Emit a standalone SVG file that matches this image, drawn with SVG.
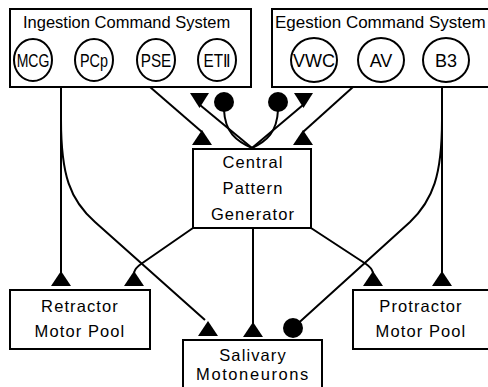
<svg xmlns="http://www.w3.org/2000/svg" width="488" height="387" viewBox="0 0 488 387">
<defs>
<style>
.box{fill:#fff;stroke:#000;stroke-width:2}
.cir{fill:#fff;stroke:#000;stroke-width:2}
.ln{fill:none;stroke:#000;stroke-width:2}
.t{font-family:"Liberation Sans",Arial,sans-serif;font-size:16.5px;fill:#000}
.lb{font-family:"Liberation Sans",Arial,sans-serif;font-size:16.5px;letter-spacing:1.1px;fill:#000;text-anchor:middle}
.cl{font-family:"Liberation Sans",Arial,sans-serif;font-size:18px;fill:#000;text-anchor:middle}
.tri{fill:#000}
</style>
</defs>
<rect width="488" height="387" fill="#fff"/>
<g id="ingestion">
<rect class="box" x="10" y="9" width="241" height="78"/>
<text class="t" x="23" y="28">Ingestion Command System</text>
<g id="MCG"><ellipse class="cir" cx="33" cy="60" rx="19" ry="21"/><text class="cl" transform="translate(33,66.5) scale(0.78,1)">MCG</text></g>
<g id="PCp"><ellipse class="cir" cx="94" cy="60" rx="19" ry="21"/><text class="cl" transform="translate(94,66.5) scale(0.8,1)">PCp</text></g>
<g id="PSE"><ellipse class="cir" cx="156" cy="60" rx="19" ry="21"/><text class="cl" transform="translate(156,66.5) scale(0.85,1)">PSE</text></g>
<g id="ETII"><ellipse class="cir" cx="217" cy="60" rx="19" ry="21"/><text class="cl" transform="translate(217,66.5) scale(0.85,1)">ETⅡ</text></g>
</g>
<g id="egestion">
<rect class="box" x="272" y="9" width="222" height="78"/>
<text class="t" x="275" y="28" style="font-size:17px">Egestion Command System</text>
<g id="VWC"><ellipse class="cir" cx="314" cy="60" rx="23" ry="22"/><text class="cl" x="314" y="66.5">VWC</text></g>
<g id="AV"><ellipse class="cir" cx="381" cy="60" rx="23" ry="22"/><text class="cl" x="381" y="66.5">AV</text></g>
<g id="B3"><ellipse class="cir" cx="446" cy="60" rx="23" ry="22"/><text class="cl" x="446" y="66.5">B3</text></g>
</g>
<g id="cpg">
<rect class="box" x="193" y="149" width="118" height="79"/>
<text class="lb" x="253" y="168">Central</text>
<text class="lb" x="253" y="194">Pattern</text>
<text class="lb" x="253" y="220">Generator</text>
</g>
<g id="retractor">
<rect class="box" x="10" y="290" width="140" height="59"/>
<text class="lb" x="80" y="312">Retractor</text>
<text class="lb" x="80" y="337">Motor Pool</text>
</g>
<g id="protractor">
<rect class="box" x="353" y="290" width="140" height="59"/>
<text class="lb" x="421" y="312">Protractor</text>
<text class="lb" x="421" y="337">Motor Pool</text>
</g>
<g id="salivary">
<rect class="box" x="183" y="340" width="139" height="60"/>
<text class="lb" x="253" y="361">Salivary</text>
<text class="lb" x="253" y="380" style="letter-spacing:1.6px">Motoneurons</text>
</g>
<g id="connectors">
<path class="ln" d="M150,87 L202,132"/>
<polygon class="tri" points="202,130 212,145 192,145"/>
<path class="ln" d="M353,87 L303,132"/>
<polygon class="tri" points="303,130 313,145 293,145"/>
<polygon class="tri" points="190,93 209,93 199.5,108"/>
<path class="ln" d="M200,105 L252,148"/>
<circle cx="224" cy="102" r="10"/>
<path class="ln" d="M224,110 C225,132 236,141 252,148"/>
<circle cx="278" cy="102" r="10"/>
<path class="ln" d="M278,110 C277,132 267,141 252,148"/>
<polygon class="tri" points="294,93 313,93 303.5,108"/>
<path class="ln" d="M303,105 L252,148"/>
<path class="ln" d="M61,87 L61,274"/>
<polygon class="tri" points="61,271 71,286 51,286"/>
<path class="ln" d="M61,120 C61,175 70,200 95,222 L205,320"/>
<polygon class="tri" points="208,321 218,336 198,336"/>
<path class="ln" d="M442,87 L442,274"/>
<polygon class="tri" points="442,271 452,286 432,286"/>
<path class="ln" d="M442,120 C442,175 433,200 410,222 L293,328"/>
<circle cx="293" cy="328" r="10"/>
<path class="ln" d="M193,228 L141,264 Q135,268 134,273"/>
<polygon class="tri" points="134,271 144,286 124,286"/>
<path class="ln" d="M253,228 L253,325"/>
<polygon class="tri" points="253,322 263,337 243,337"/>
<path class="ln" d="M311,228 L366,264 Q372,268 373,273"/>
<polygon class="tri" points="373,271 383,286 363,286"/>
</g>
</svg>
